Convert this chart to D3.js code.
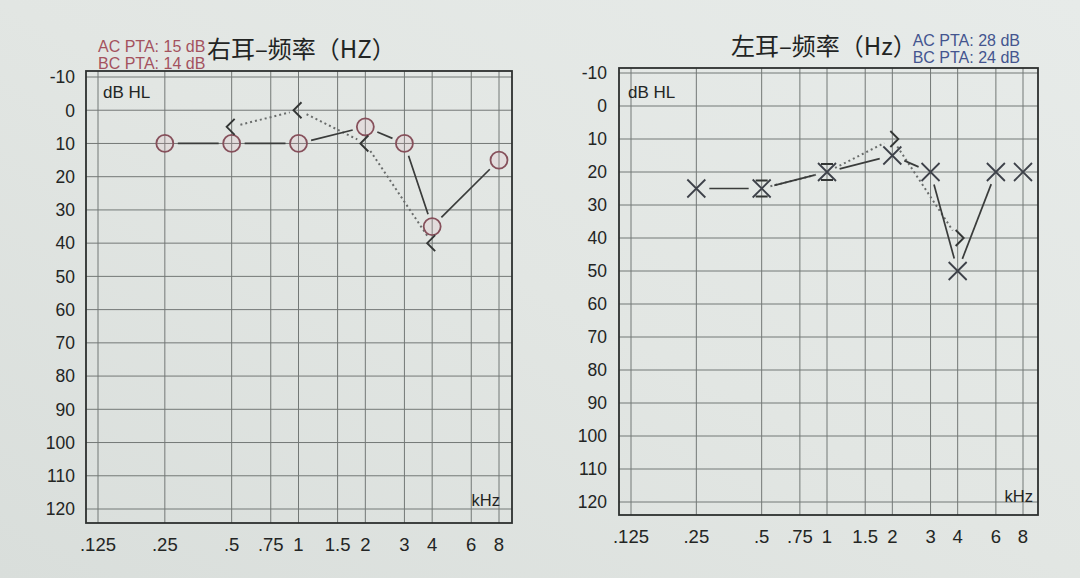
<!DOCTYPE html>
<html>
<head>
<meta charset="utf-8">
<script src="https://cdn.jsdelivr.net/npm/d3@7"></script>
<style>
  html, body { margin: 0; padding: 0; background: #e1e5e2; }
  svg { display: block; }
</style>
</head>
<body>
<svg id="chart" width="1080" height="578"></svg>
<script>
// ---------- data ----------
const freqTicks = [0.125, 0.25, 0.5, 0.75, 1, 1.5, 2, 3, 4, 6, 8];
const freqTickLabels = [".125", ".25", ".5", ".75", "1", "1.5", "2", "3", "4", "6", "8"];
const dbTicks = [-10, 0, 10, 20, 30, 40, 50, 60, 70, 80, 90, 100, 110, 120];

// Right ear (左图) — air conduction (O) and bone conduction (<)
const rightAcFreqs = [0.25, 0.5, 1, 2, 3, 4, 8];
const rightAcDb    = [10, 10, 10, 5, 10, 35, 15];
const rightBcFreqs = [0.5, 1, 2, 4];
const rightBcDb    = [5, 0, 10, 40];

// Left ear (右图) — air conduction (X) and bone conduction (>)
const leftAcFreqs = [0.25, 0.5, 1, 2, 3, 4, 6, 8];
const leftAcDb    = [25, 25, 20, 15, 20, 50, 20, 20];
const leftBcFreqs = [0.5, 1, 2, 4];
const leftBcDb    = [25, 20, 10, 40];

const titles = ["右耳–频率（HZ）", "左耳–频率（Hz）"];
const ptaTexts = [["AC PTA: 15 dB", "BC PTA: 14 dB"], ["AC PTA: 28 dB", "BC PTA: 24 dB"]];

// ---------- drawing ----------
const svg = d3.select("#chart");

// paper background
const defs = svg.append("defs");
const grad = defs.append("linearGradient").attr("id", "paper")
  .attr("x1", "0").attr("y1", "1").attr("x2", "1").attr("y2", "0");
grad.append("stop").attr("offset", "0").attr("stop-color", "#d9dedb");
grad.append("stop").attr("offset", "0.5").attr("stop-color", "#e2e6e3");
grad.append("stop").attr("offset", "1").attr("stop-color", "#e7ebe9");
svg.append("rect").attr("width", 1080).attr("height", 578).attr("fill", "url(#paper)");

const panels = [
  {
    x: d3.scaleLog().domain([0.125, 8]).range([98, 499]),
    y: d3.scaleLinear().domain([-10, 120]).range([77, 509]),
    frame: {x0: 86, x1: 512, y0: 71, y1: 523},
    yLabelX: 75, xLabelY: 551,
    dbHL: [103, 98], khz: [500, 506],
    title: [207, 58], titleText: titles[0],
    pta: {x: 98, y: [52, 69], color: "#a4525e", anchor: "start", text: ptaTexts[0]},
    ac: {f: rightAcFreqs, d: rightAcDb, sym: "circle"},
    bc: {f: rightBcFreqs, d: rightBcDb, sym: "lt"}
  },
  {
    x: d3.scaleLog().domain([0.125, 8]).range([631, 1023]),
    y: d3.scaleLinear().domain([-10, 120]).range([73, 502]),
    frame: {x0: 619, x1: 1038, y0: 68, y1: 515},
    yLabelX: 607, xLabelY: 543,
    dbHL: [628, 98], khz: [1033, 502],
    title: [731, 55], titleText: titles[1],
    pta: {x: 1020, y: [46, 63], color: "#44558f", anchor: "end", text: ptaTexts[1]},
    ac: {f: leftAcFreqs, d: leftAcDb, sym: "x"},
    bc: {f: leftBcFreqs, d: leftBcDb, sym: "gt"}
  }
];

const numFont = "'Liberation Sans', Arial, sans-serif";
const cjkFont = "'Noto Sans CJK SC', sans-serif";

function gapSegments(pts, gap) {
  const segs = [];
  for (let i = 0; i < pts.length - 1; i++) {
    const [x1, y1] = pts[i], [x2, y2] = pts[i + 1];
    const L = Math.hypot(x2 - x1, y2 - y1);
    if (L - 2 * gap < 7) continue;
    const ux = (x2 - x1) / L, uy = (y2 - y1) / L;
    segs.push([x1 + ux * gap, y1 + uy * gap, x2 - ux * gap, y2 - uy * gap]);
  }
  return segs;
}

panels.forEach(p => {
  const g = svg.append("g");
  const fr = p.frame;

  // grid: vertical lines per frequency
  g.append("g").selectAll("line").data(freqTicks).join("line")
    .attr("x1", d => p.x(d)).attr("x2", d => p.x(d))
    .attr("y1", fr.y0).attr("y2", fr.y1)
    .attr("stroke", "#737876").attr("stroke-width", 1);
  // grid: horizontal lines per dB
  g.append("g").selectAll("line").data(dbTicks).join("line")
    .attr("x1", fr.x0).attr("x2", fr.x1)
    .attr("y1", d => p.y(d)).attr("y2", d => p.y(d))
    .attr("stroke", "#737876").attr("stroke-width", 1);
  // frame
  g.append("rect")
    .attr("x", fr.x0).attr("y", fr.y0)
    .attr("width", fr.x1 - fr.x0).attr("height", fr.y1 - fr.y0)
    .attr("fill", "none").attr("stroke", "#2d302f").attr("stroke-width", 1.8);

  // y-axis labels
  g.append("g").selectAll("text").data(dbTicks).join("text")
    .attr("x", p.yLabelX).attr("y", d => p.y(d)).attr("dy", "0.36em")
    .attr("text-anchor", "end")
    .attr("font-family", numFont).attr("font-size", 17.5).attr("fill", "#232524")
    .text(d => d);
  // x-axis labels
  g.append("g").selectAll("text").data(freqTicks).join("text")
    .attr("x", d => p.x(d)).attr("y", p.xLabelY)
    .attr("text-anchor", "middle")
    .attr("font-family", numFont).attr("font-size", 18.5).attr("fill", "#232524")
    .text((d, i) => freqTickLabels[i]);

  g.append("text").attr("x", p.dbHL[0]).attr("y", p.dbHL[1])
    .attr("font-family", numFont).attr("font-size", 17).attr("fill", "#232524")
    .text("dB HL");
  g.append("text").attr("x", p.khz[0]).attr("y", p.khz[1]).attr("text-anchor", "end")
    .attr("font-family", numFont).attr("font-size", 16.5).attr("fill", "#232524")
    .text("kHz");

  // title
  g.append("text").attr("x", p.title[0]).attr("y", p.title[1])
    .attr("font-family", cjkFont).attr("font-size", 24).attr("fill", "#222423")
    .text(p.titleText);
  // PTA
  g.append("g").selectAll("text").data(p.pta.text).join("text")
    .attr("x", p.pta.x).attr("y", (d, i) => p.pta.y[i])
    .attr("text-anchor", p.pta.anchor)
    .attr("font-family", numFont).attr("font-size", 16).attr("fill", p.pta.color)
    .text(d => d);

  // BC dotted line
  const bcPts = p.bc.f.map((f, i) => [p.x(f), p.y(p.bc.d[i])]);
  g.append("g").selectAll("line").data(gapSegments(bcPts, 9)).join("line")
    .attr("x1", d => d[0]).attr("y1", d => d[1]).attr("x2", d => d[2]).attr("y2", d => d[3])
    .attr("stroke", "#6a6d6c").attr("stroke-width", 2).attr("stroke-dasharray", "2,3");

  // AC solid line
  const acPts = p.ac.f.map((f, i) => [p.x(f), p.y(p.ac.d[i])]);
  g.append("g").selectAll("line").data(gapSegments(acPts, 13)).join("line")
    .attr("x1", d => d[0]).attr("y1", d => d[1]).attr("x2", d => d[2]).attr("y2", d => d[3])
    .attr("stroke", "#3a3c3b").attr("stroke-width", 1.7);

  // AC markers
  if (p.ac.sym === "circle") {
    g.append("g").selectAll("circle").data(acPts).join("circle")
      .attr("cx", d => d[0]).attr("cy", d => d[1]).attr("r", 8.5)
      .attr("fill", "rgba(225,170,182,0.15)")
      .attr("stroke", "#86505b").attr("stroke-width", 1.8);
  } else {
    g.append("g").selectAll("path").data(acPts).join("path")
      .attr("d", d => `M${d[0]-9},${d[1]-9}L${d[0]+9},${d[1]+9}M${d[0]+9},${d[1]-9}L${d[0]-9},${d[1]+9}`)
      .attr("fill", "none").attr("stroke", "#3d4149").attr("stroke-width", 1.8);
  }

  // BC markers
  const bcMarks = p.bc.f.map((f, i) => {
    const ai = p.ac.f.indexOf(f);
    const coincide = ai >= 0 && p.ac.d[ai] === p.bc.d[i];
    return {x: p.x(f), y: p.y(p.bc.d[i]), coincide};
  });
  g.append("g").selectAll("path").data(bcMarks).join("path")
    .attr("d", d => {
      if (d.coincide && p.bc.sym === "gt") {
        return `M${d.x-6},${d.y-8}L${d.x+6},${d.y-8}M${d.x-6},${d.y+8}L${d.x+6},${d.y+8}`;
      }
      if (p.bc.sym === "lt") {
        return `M${d.x+3},${d.y-8}L${d.x-5},${d.y}L${d.x+3},${d.y+8}`;
      }
      return `M${d.x-2},${d.y-8}L${d.x+6},${d.y}L${d.x-2},${d.y+8}`;
    })
    .attr("fill", "none").attr("stroke", "#333635").attr("stroke-width", 1.9);
});
</script>
</body>
</html>
